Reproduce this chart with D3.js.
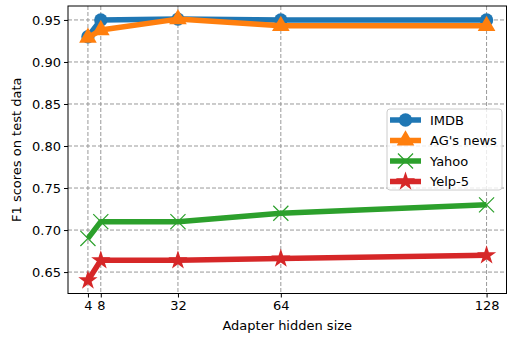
<!DOCTYPE html>
<html>
<head>
<meta charset="utf-8">
<script src="https://cdn.jsdelivr.net/npm/d3@7"></script>
<style>
  body { margin: 0; background: #fff; }
  text { font-family: "DejaVu Sans", sans-serif; }
</style>
</head>
<body>
<div id="app"></div>
<script>
var sizes = [4, 8, 32, 64, 128];
var imdb = [0.930, 0.950, 0.951, 0.950, 0.950];
var agNews = [0.929, 0.938, 0.951, 0.943, 0.943];
var yahoo = [0.690, 0.710, 0.710, 0.720, 0.730];
var yelp = [0.640, 0.664, 0.664, 0.666, 0.670];
var yTicks = [0.65, 0.70, 0.75, 0.80, 0.85, 0.90, 0.95];
var seriesNames = ['IMDB', "AG's news", 'Yahoo', 'Yelp-5'];

var series = [
    { name: seriesNames[0], values: imdb, color: '#1f77b4', marker: 'circle' },
    { name: seriesNames[1], values: agNews, color: '#ff7f0e', marker: 'triangle' },
    { name: seriesNames[2], values: yahoo, color: '#2ca02c', marker: 'x' },
    { name: seriesNames[3], values: yelp, color: '#d62728', marker: 'star' }
];

var width = 507,
    height = 338,
    plotLeft = 68,
    plotRight = 506.5,
    plotTop = 6,
    plotBottom = 293.5;

var svg = d3.select('#app').append('svg')
    .attr('width', width)
    .attr('height', height);

var xScale = d3.scaleLinear().domain([-2.2, 134.2]).range([plotLeft, plotRight]);
var yScale = d3.scaleLinear().domain([0.6245, 0.9666]).range([plotBottom, plotTop]);

// grid
var grid = svg.append('g');
grid.selectAll('.gx').data(sizes).enter().append('line')
    .attr('x1', d => xScale(d)).attr('x2', d => xScale(d))
    .attr('y1', plotTop).attr('y2', plotBottom)
    .attr('stroke', '#999').attr('stroke-width', 1).attr('stroke-dasharray', '4,2');
grid.selectAll('.gy').data(yTicks).enter().append('line')
    .attr('y1', d => yScale(d)).attr('y2', d => yScale(d))
    .attr('x1', plotLeft).attr('x2', plotRight)
    .attr('stroke', '#999').attr('stroke-width', 1).attr('stroke-dasharray', '4,2');

var xAxis = d3.axisBottom(xScale).tickValues(sizes).tickSize(4).tickPadding(3).tickFormat(d3.format('d'));
var yAxis = d3.axisLeft(yScale).tickValues(yTicks).tickSize(4).tickPadding(3).tickFormat(d3.format('.2f'));

var gx = svg.append('g').attr('transform', 'translate(0,' + plotBottom + ')').call(xAxis);
var gy = svg.append('g').attr('transform', 'translate(' + plotLeft + ',0)').call(yAxis);
[gx, gy].forEach(function (g) {
    g.select('.domain').remove();
    g.selectAll('text').style('font-size', '13px').attr('fill', '#000');
    g.selectAll('line').attr('stroke', '#000');
});

var symbols = {
    circle: d3.symbol().type(d3.symbolCircle).size(140),
    triangle: d3.symbol().type(d3.symbolTriangle).size(135),
    star: d3.symbol().type(d3.symbolStar).size(115),
    x: d3.symbol().type(d3.symbolTimes).size(150)
};

function drawMarker(g, s, x, y) {
    var p = g.append('path')
        .attr('d', symbols[s.marker]())
        .attr('transform', 'translate(' + x + ',' + y + ')');
    if (s.marker === 'x') {
        p.attr('fill', 'none').attr('stroke', s.color).attr('stroke-width', 1.2);
    } else {
        p.attr('fill', s.color);
    }
}

var plot = svg.append('g');
var line = d3.line().x((d, i) => xScale(sizes[i])).y(d => yScale(d));
series.forEach(function (s) {
    var g = plot.append('g');
    g.append('path').datum(s.values)
        .attr('d', line)
        .attr('fill', 'none')
        .attr('stroke', s.color)
        .attr('stroke-width', 5.5)
        .attr('stroke-linejoin', 'round')
        .attr('stroke-linecap', 'butt');
    s.values.forEach(function (v, i) {
        drawMarker(g, s, xScale(sizes[i]), yScale(v));
    });
});

// spines
svg.append('rect')
    .attr('x', plotLeft).attr('y', plotTop)
    .attr('width', plotRight - plotLeft).attr('height', plotBottom - plotTop)
    .attr('fill', 'none').attr('stroke', '#000').attr('stroke-width', 1);

// legend
var legend = svg.append('g').attr('transform', 'translate(387,109)');
legend.append('rect')
    .attr('width', 115).attr('height', 81).attr('rx', 3)
    .attr('fill', '#fff').attr('fill-opacity', 0.8)
    .attr('stroke', '#cccccc').attr('stroke-width', 1);
series.forEach(function (s, i) {
    var y = 11 + i * 20.5;
    legend.append('line')
        .attr('x1', 3).attr('x2', 34).attr('y1', y).attr('y2', y)
        .attr('stroke', s.color).attr('stroke-width', 5.5);
    drawMarker(legend, s, 18.5, y);
    legend.append('text')
        .attr('x', 43).attr('y', y).attr('dy', '0.36em')
        .style('font-size', '13px')
        .text(s.name);
});

// axis labels
svg.append('text')
    .attr('x', (plotLeft + plotRight) / 2).attr('y', 330)
    .attr('text-anchor', 'middle')
    .style('font-size', '13px')
    .text('Adapter hidden size');
svg.append('text')
    .attr('transform', 'translate(21,' + (plotTop + plotBottom) / 2 + ') rotate(-90)')
    .attr('text-anchor', 'middle')
    .style('font-size', '13px')
    .text('F1 scores on test data');
</script>
</body>
</html>
